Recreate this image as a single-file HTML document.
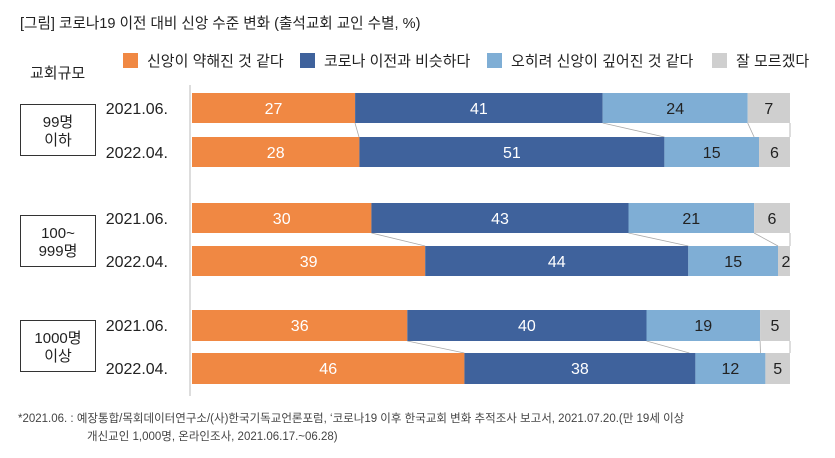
<!DOCTYPE html>
<html><head><meta charset="utf-8"><style>
body{margin:0;background:#fff;}
svg{display:block;font-family:"Liberation Sans","Noto Sans CJK KR",sans-serif;}
</style></head><body>
<svg width="835" height="458" viewBox="0 0 835 458" xmlns="http://www.w3.org/2000/svg">
<text x="20" y="28" font-size="14.6" fill="#222">[그림] 코로나19 이전 대비 신앙 수준 변화 (출석교회 교인 수별, %)</text>
<rect x="123" y="53" width="15" height="15" fill="#F08843"/>
<text x="147" y="66" font-size="15" fill="#222">신앙이 약해진 것 같다</text>
<rect x="300" y="53" width="15" height="15" fill="#3F629C"/>
<text x="324" y="66" font-size="15" fill="#222">코로나 이전과 비슷하다</text>
<rect x="487" y="53" width="15" height="15" fill="#7FAED5"/>
<text x="511" y="66" font-size="15" fill="#222">오히려 신앙이 깊어진 것 같다</text>
<rect x="712" y="53" width="15" height="15" fill="#CFCFCF"/>
<text x="736" y="66" font-size="15" fill="#222">잘 모르겠다</text>
<text x="30" y="78" font-size="15" fill="#222">교회규모</text>
<line x1="190" y1="85" x2="190" y2="396" stroke="#bbb" stroke-width="1"/>
<g font-size="16" fill="#222" text-anchor="end">
<text x="168" y="114">2021.06.</text><text x="168" y="158">2022.04.</text>
<text x="168" y="224">2021.06.</text><text x="168" y="267">2022.04.</text>
<text x="168" y="331">2021.06.</text><text x="168" y="374">2022.04.</text>
</g>
<g fill="none" stroke="#333" stroke-width="1">
<rect x="20.5" y="104.5" width="75" height="51"/>
<rect x="20.5" y="215.5" width="75" height="51"/>
<rect x="20.5" y="320.5" width="75" height="51"/>
</g>
<g font-size="15" fill="#222" text-anchor="middle">
<text x="58" y="127">99명</text><text x="58" y="145">이하</text>
<text x="58" y="238">100~</text><text x="58" y="256">999명</text>
<text x="58" y="343">1000명</text><text x="58" y="361">이상</text>
</g>
<g stroke="#aaa" stroke-width="0.8">
<line x1="355" y1="123" x2="359" y2="137"/><line x1="602.7" y1="123" x2="664.4" y2="137"/><line x1="747.7" y1="123" x2="754.1" y2="137"/><line x1="790" y1="123" x2="790" y2="137"/>
<line x1="371.4" y1="233" x2="425.2" y2="246"/><line x1="628.5" y1="233" x2="688.3" y2="246"/><line x1="754.1" y1="233" x2="778" y2="246"/><line x1="790" y1="233" x2="790" y2="246"/>
<line x1="407.3" y1="341" x2="464.4" y2="353"/><line x1="646.5" y1="341" x2="689.4" y2="353"/><line x1="760.1" y1="341" x2="760.5" y2="353"/><line x1="790" y1="341" x2="790" y2="353"/>
</g>
<g font-size="16" text-anchor="middle">
<rect x="192" y="93" width="163.1" height="30" fill="#F08843"/><rect x="355.1" y="93" width="247.6" height="30" fill="#3F629C"/><rect x="602.7" y="93" width="145" height="30" fill="#7FAED5"/><rect x="747.7" y="93" width="42.3" height="30" fill="#CFCFCF"/>
<text x="273.5" y="114" fill="#fff">27</text><text x="478.9" y="114" fill="#fff">41</text><text x="675.2" y="114" fill="#222">24</text><text x="768.8" y="114" fill="#222">7</text>
<rect x="192" y="137" width="167.4" height="30" fill="#F08843"/><rect x="359.4" y="137" width="305" height="30" fill="#3F629C"/><rect x="664.4" y="137" width="94.6" height="30" fill="#7FAED5"/><rect x="759" y="137" width="31" height="30" fill="#CFCFCF"/>
<text x="275.7" y="158" fill="#fff">28</text><text x="511.9" y="158" fill="#fff">51</text><text x="711.7" y="158" fill="#222">15</text><text x="774.5" y="158" fill="#222">6</text>
<rect x="192" y="203" width="179.4" height="30" fill="#F08843"/><rect x="371.4" y="203" width="257.1" height="30" fill="#3F629C"/><rect x="628.5" y="203" width="125.6" height="30" fill="#7FAED5"/><rect x="754.1" y="203" width="35.9" height="30" fill="#CFCFCF"/>
<text x="281.7" y="224" fill="#fff">30</text><text x="500" y="224" fill="#fff">43</text><text x="691.3" y="224" fill="#222">21</text><text x="772" y="224" fill="#222">6</text>
<rect x="192" y="246" width="233.2" height="30" fill="#F08843"/><rect x="425.2" y="246" width="263.1" height="30" fill="#3F629C"/><rect x="688.3" y="246" width="89.7" height="30" fill="#7FAED5"/><rect x="778" y="246" width="12" height="30" fill="#CFCFCF"/>
<text x="308.6" y="267" fill="#fff">39</text><text x="556.8" y="267" fill="#fff">44</text><text x="733.2" y="267" fill="#222">15</text><text x="786" y="267" fill="#222">2</text>
<rect x="192" y="310" width="215.3" height="31" fill="#F08843"/><rect x="407.3" y="310" width="239.2" height="31" fill="#3F629C"/><rect x="646.5" y="310" width="113.6" height="31" fill="#7FAED5"/><rect x="760.1" y="310" width="29.9" height="31" fill="#CFCFCF"/>
<text x="299.7" y="331" fill="#fff">36</text><text x="526.9" y="331" fill="#fff">40</text><text x="703.3" y="331" fill="#222">19</text><text x="775" y="331" fill="#222">5</text>
<rect x="192" y="353" width="272.4" height="31" fill="#F08843"/><rect x="464.4" y="353" width="231" height="31" fill="#3F629C"/><rect x="695.4" y="353" width="70" height="31" fill="#7FAED5"/><rect x="765.4" y="353" width="24.6" height="31" fill="#CFCFCF"/>
<text x="328.2" y="374" fill="#fff">46</text><text x="579.9" y="374" fill="#fff">38</text><text x="730.4" y="374" fill="#222">12</text><text x="777.7" y="374" fill="#222">5</text>
</g>
<text x="18" y="422" font-size="11.5" fill="#444">*2021.06. : 예장통합/목회데이터연구소/(사)한국기독교언론포럼, ‘코로나19 이후 한국교회 변화 추적조사 보고서, 2021.07.20.(만 19세 이상</text>
<text x="87" y="440" font-size="11.5" fill="#444">개신교인 1,000명, 온라인조사, 2021.06.17.~06.28)</text>
</svg>
</body></html>
